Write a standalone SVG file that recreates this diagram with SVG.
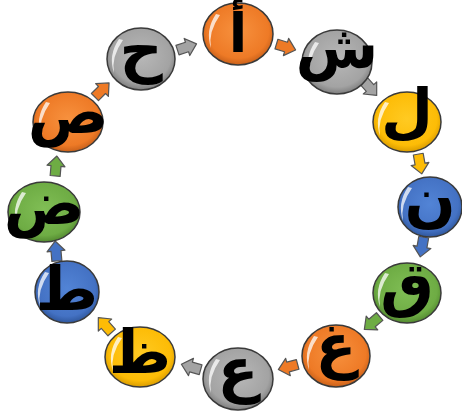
<svg xmlns="http://www.w3.org/2000/svg" xmlns:xlink="http://www.w3.org/1999/xlink" width="462" height="411" viewBox="0 0 462 411">
<defs>
<radialGradient id="gO" cx="50%" cy="45%" r="55%"><stop offset="0" stop-color="#F7913E"/><stop offset="0.8" stop-color="#EE7A26"/><stop offset="1" stop-color="#C8601A"/></radialGradient>
<radialGradient id="gG" cx="50%" cy="45%" r="55%"><stop offset="0" stop-color="#B8B8B8"/><stop offset="0.8" stop-color="#A3A3A3"/><stop offset="1" stop-color="#7E7E7E"/></radialGradient>
<radialGradient id="gY" cx="50%" cy="45%" r="55%"><stop offset="0" stop-color="#FFCA22"/><stop offset="0.8" stop-color="#FDBC06"/><stop offset="1" stop-color="#D99C00"/></radialGradient>
<radialGradient id="gB" cx="50%" cy="45%" r="55%"><stop offset="0" stop-color="#5284D6"/><stop offset="0.8" stop-color="#4472C4"/><stop offset="1" stop-color="#2F579D"/></radialGradient>
<radialGradient id="gN" cx="50%" cy="45%" r="55%"><stop offset="0" stop-color="#80BE55"/><stop offset="0.8" stop-color="#6EAC44"/><stop offset="1" stop-color="#538A30"/></radialGradient>
<path id="hl" d="M-22,-20 Q-33,-4 -27,14 Q-30,-2 -18,-19 Z" fill="#FFFFFF" opacity="0.75"/>
<path id="ar" d="M-10,-5 L0,-5 L0,-9 L10,0 L0,9 L0,5 L-10,5 Z"/>
<style>
.c{stroke:#3A3A3A;stroke-width:1.5}
.t{font-family:"DejaVu Sans",sans-serif;font-weight:bold;font-size:60px;fill:#000;text-anchor:middle}
.a{stroke:#555;stroke-width:1.2;stroke-linejoin:round}
.o{fill:#EE7A26}.g{fill:#A3A3A3}.y{fill:#FDBC06}.b{fill:#4472C4}.n{fill:#6EAC44}
</style>
</defs>
<g id="connectors">
<use xlink:href="#ar" class="a o" transform="translate(286,47) rotate(17)"/>
<use xlink:href="#ar" class="a g" transform="translate(370,88) rotate(48)"/>
<use xlink:href="#ar" class="a y" transform="translate(420,164) rotate(80)"/>
<use xlink:href="#ar" class="a b" transform="translate(422,247) rotate(100)"/>
<use xlink:href="#ar" class="a n" transform="translate(372,323) rotate(140)"/>
<use xlink:href="#ar" class="a o" transform="translate(288,367) rotate(165)"/>
<use xlink:href="#ar" class="a g" transform="translate(191,367) rotate(196)"/>
<use xlink:href="#ar" class="a y" transform="translate(105,325) rotate(228)"/>
<use xlink:href="#ar" class="a b" transform="translate(56,251) rotate(265)"/>
<use xlink:href="#ar" class="a n" transform="translate(56,166) rotate(275)"/>
<use xlink:href="#ar" class="a o" transform="translate(102,90) rotate(315)"/>
<use xlink:href="#ar" class="a g" transform="translate(187,47) rotate(342)"/>
</g>
<g id="n1"><ellipse class="c" cx="238" cy="34" rx="35" ry="31" fill="url(#gO)"/><use xlink:href="#hl" x="238" y="34"/><text class="t" x="238" y="52" style="font-size:54px">أ</text></g>
<g id="n2"><ellipse class="c" cx="337" cy="62" rx="35" ry="32" fill="url(#gG)"/><use xlink:href="#hl" x="337" y="62"/><text class="t" x="337" y="68">ش</text></g>
<g id="n3"><ellipse class="c" cx="407" cy="122" rx="34" ry="30" fill="url(#gY)"/><use xlink:href="#hl" x="407" y="122"/><text class="t" x="407" y="132">ل</text></g>
<g id="n4"><ellipse class="c" cx="430" cy="207" rx="32" ry="30" fill="url(#gB)"/><use xlink:href="#hl" x="430" y="207"/><text class="t" x="430" y="220">ن</text></g>
<g id="n5"><ellipse class="c" cx="407" cy="293" rx="34" ry="30" fill="url(#gN)"/><use xlink:href="#hl" x="407" y="293"/><text class="t" x="407" y="305">ق</text></g>
<g id="n6"><ellipse class="c" cx="336" cy="356" rx="34" ry="31" fill="url(#gO)"/><use xlink:href="#hl" x="336" y="356"/><text class="t" x="336" y="366">غ</text></g>
<g id="n7"><ellipse class="c" cx="238" cy="379" rx="35" ry="31" fill="url(#gG)"/><use xlink:href="#hl" x="238" y="379"/><text class="t" x="238" y="390">ع</text></g>
<g id="n8"><ellipse class="c" cx="140" cy="357" rx="35" ry="30" fill="url(#gY)"/><use xlink:href="#hl" x="140" y="357"/><text class="t" x="140" y="373">ظ</text></g>
<g id="n9"><ellipse class="c" cx="67" cy="292" rx="32" ry="31" fill="url(#gB)"/><use xlink:href="#hl" x="67" y="292"/><text class="t" x="67" y="310">ط</text></g>
<g id="n10"><ellipse class="c" cx="44" cy="212" rx="36" ry="30" fill="url(#gN)"/><use xlink:href="#hl" x="44" y="212"/><text class="t" x="44" y="224">ض</text></g>
<g id="n11"><ellipse class="c" cx="68" cy="122" rx="35" ry="30" fill="url(#gO)"/><use xlink:href="#hl" x="68" y="122"/><text class="t" x="68" y="133">ص</text></g>
<g id="n12"><ellipse class="c" cx="141" cy="59" rx="34" ry="31" fill="url(#gG)"/><use xlink:href="#hl" x="141" y="59"/><text class="t" x="141" y="70">ح</text></g>
</svg>
